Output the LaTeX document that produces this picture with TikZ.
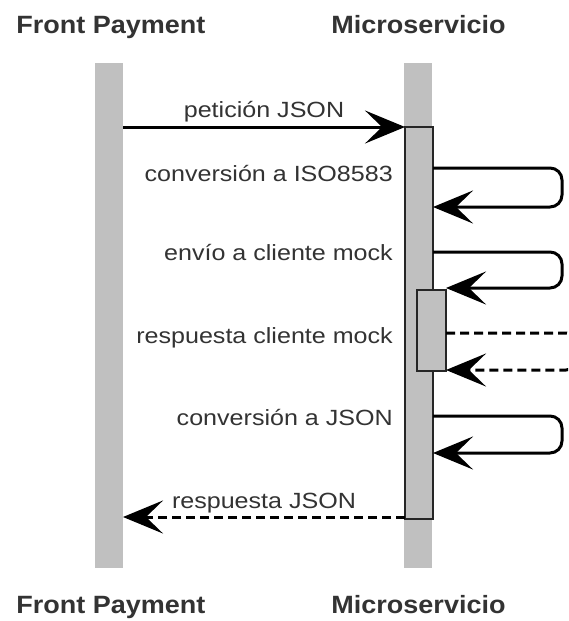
\documentclass[tikz,border=0pt]{standalone}
\usepackage{fontspec}
\setmainfont{Liberation Sans}
\usetikzlibrary{arrows.meta}
\definecolor{bargray}{HTML}{C0C0C0}
\definecolor{txtgray}{HTML}{333333}
\begin{document}
\begin{tikzpicture}[x=1pt,y=1pt,
  lifebar/.style={fill=bargray, draw=none, minimum width=28pt, minimum height=505pt, inner sep=0pt, outer sep=0pt},
  actbox/.style={fill=bargray, draw=black!85, line width=1.8pt, inner sep=0pt, outer sep=0pt},
  msg/.style={line width=3pt, draw=black, -{Stealth[length=40pt,width=33pt,inset=17pt]}},
  retmsg/.style={msg, dash pattern=on 9pt off 5pt},
  lbl/.style={inner sep=0pt, text=txtgray, font=\fontsize{22}{26}\selectfont},
  hdr/.style={inner sep=0pt, text=txtgray, font=\bfseries\fontsize{25}{30}\selectfont},
  loop/.style={rounded corners=12pt}]
\useasboundingbox (0,0) rectangle (568,-621);
\clip (0,0) rectangle (568,-621);
\fill[white] (0,0) rectangle (568,-621);

% headers
\node[hdr, anchor=base] (fpTop) at (111,-33) {\scalebox{1.08}[1]{Front Payment}};
\node[hdr, anchor=base] (msTop) at (418.5,-33) {\scalebox{1.08}[1]{Microservicio}};
\node[hdr, anchor=base] (fpBot) at (111,-613) {\scalebox{1.08}[1]{Front Payment}};
\node[hdr, anchor=base] (msBot) at (418.5,-613) {\scalebox{1.08}[1]{Microservicio}};

% lifelines
\node[lifebar] (fp) at (109,-315.5) {};
\node[lifebar] (ms) at (418,-315.5) {};

% activation boxes
\node[actbox, minimum width=28pt, minimum height=392pt] (act) at (419,-323) {};
\node[actbox, minimum width=29pt, minimum height=81pt] (mock) at (431.5,-330.5) {};

% named points of the self messages
\coordinate (c1a) at (562,-168);
\coordinate (c1b) at (562,-207);
\coordinate (c2a) at (562,-252);
\coordinate (c2b) at (562,-288);
\coordinate (c3a) at (578,-333);
\coordinate (c3b) at (578,-370);
\coordinate (c4a) at (562,-416);
\coordinate (c4b) at (562,-453);

% petición JSON
\draw[msg] (fp.east |- act.north) -- (act.north west);
\node[lbl, anchor=base] (l0) at (264,-117) {\scalebox{1.14}[1]{petición JSON}};

% conversión a ISO8583
\draw[msg, loop] (act.east |- c1a) -- (c1a) -- (c1b) -- (act.east |- c1b);
\node[lbl, anchor=base east] (l1) at (393,-181) {\scalebox{1.14}[1]{conversión a ISO8583}};

% envío a cliente mock
\draw[msg, loop] (act.east |- c2a) -- (c2a) -- (c2b) -- (mock.east |- c2b);
\node[lbl, anchor=base east] (l2) at (393,-260) {\scalebox{1.14}[1]{envío a cliente mock}};

% respuesta cliente mock
\draw[retmsg, loop] (mock.east |- c3a) -- (c3a) -- (c3b) -- (mock.east |- c3b);
\node[lbl, anchor=base east] (l3) at (393,-343) {\scalebox{1.14}[1]{respuesta cliente mock}};

% conversión a JSON
\draw[msg, loop] (act.east |- c4a) -- (c4a) -- (c4b) -- (act.east |- c4b);
\node[lbl, anchor=base east] (l4) at (393,-425) {\scalebox{1.14}[1]{conversión a JSON}};

% respuesta JSON
\coordinate (r5) at (0,-517);
\draw[retmsg] (act.west |- r5) -- (fp.east |- r5);
\node[lbl, anchor=base] (l5) at (264,-508) {\scalebox{1.14}[1]{respuesta JSON}};
\end{tikzpicture}
\end{document}
